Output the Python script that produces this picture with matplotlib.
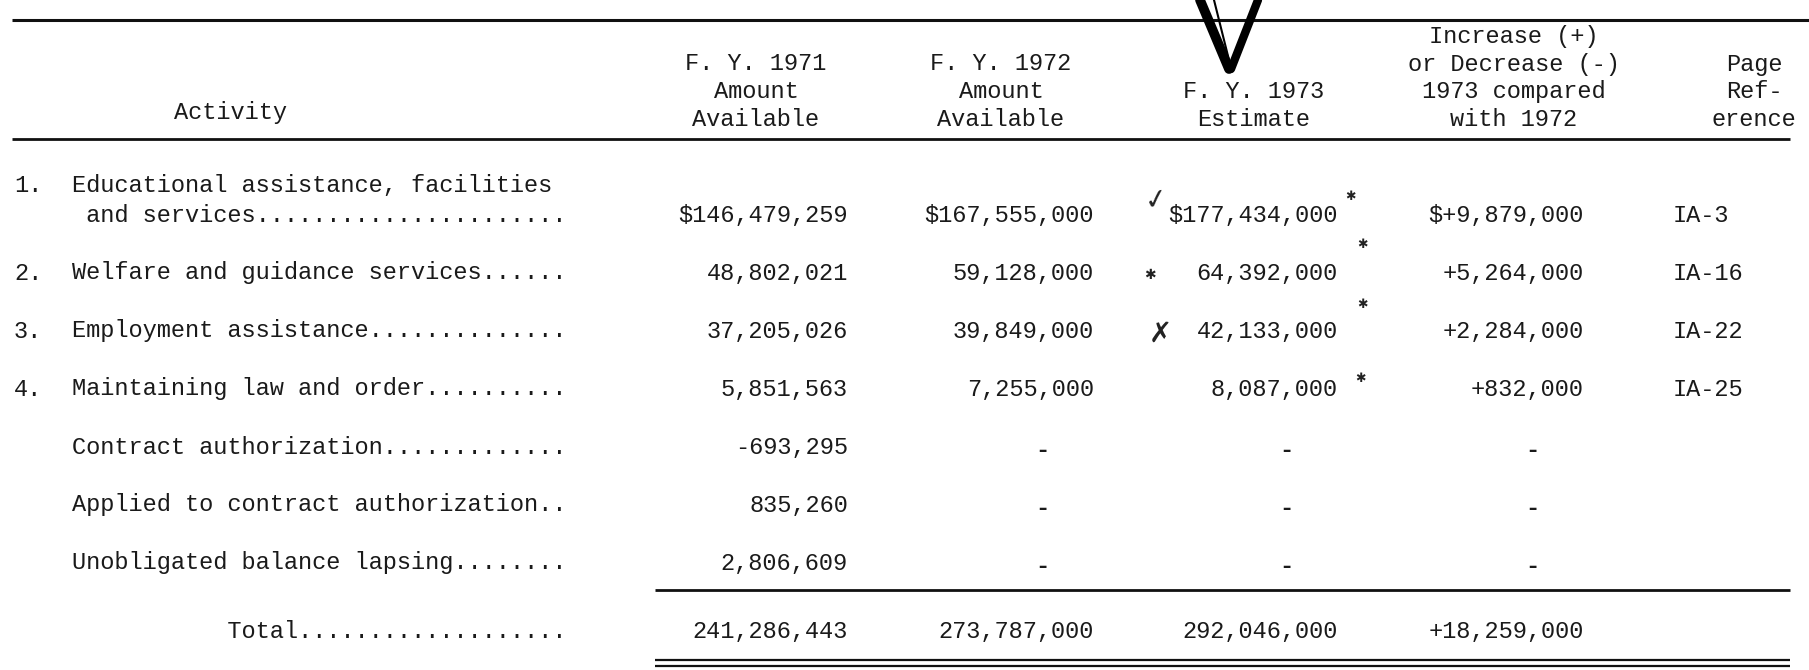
import matplotlib
matplotlib.use("Agg")
import matplotlib.pyplot as plt

# ---------------- data ----------------
row_numbers = ["1.", "2.", "3.", "4.", "", "", ""]
activities = [
    "Educational assistance, facilities|and services",
    "Welfare and guidance services",
    "Employment assistance",
    "Maintaining law and order",
    "Contract authorization",
    "Applied to contract authorization",
    "Unobligated balance lapsing",
]
fy1971 = [146479259, 48802021, 37205026, 5851563, -693295, 835260, 2806609]
fy1972 = [167555000, 59128000, 39849000, 7255000, None, None, None]
fy1973 = [177434000, 64392000, 42133000, 8087000, None, None, None]
change = [9879000, 5264000, 2284000, 832000, None, None, None]
page_ref = ["IA-3", "IA-16", "IA-22", "IA-25", "", "", ""]
total_label = "Total"
totals = [241286443, 273787000, 292046000, 18259000]

headers = [
    ["Activity"],
    ["F. Y. 1971", "Amount", "Available"],
    ["F. Y. 1972", "Amount", "Available"],
    ["F. Y. 1973", "Estimate"],
    ["Increase (+)", "or Decrease (-)", "1973 compared", "with 1972"],
    ["Page", "Ref-", "erence"],
]

# ---------------- layout ----------------
W, H = 1809, 670
fig = plt.figure(figsize=(W / 100, H / 100), dpi=100)
ax = fig.add_axes([0, 0, 1, 1])
ax.set_xlim(0, W)
ax.set_ylim(H, 0)
ax.axis("off")

FONT = dict(family="Liberation Mono", fontsize=17, color="#1a1a1a")
INK = "#111111"

# header
hdr_x = [231, 756, 1001, 1254, 1514, 1754]
hdr_bottom = 119
hdr_step = 27.5
for x, lines in zip(hdr_x, headers):
    n = len(lines)
    for k, line in enumerate(lines):
        y = hdr_bottom - (n - 1 - k) * hdr_step
        if lines[0] == "Activity":
            y = 113
        ax.text(x, y, line, ha="center", va="center", **FONT)

ax.plot([12, W], [20, 20], color=INK, lw=2.2, solid_capstyle="butt")
ax.plot([12, 1790], [139, 139], color=INK, lw=2.0, solid_capstyle="butt")

# body
label_x = 72
num_x = 14
label_width = 35
row_y0 = 215
row_step = 58
col_right = [848, 1094, 1338, 1584]
dash_x = [None, 1042, 1286, 1532]
ref_x = 1673


def fmt(v, dollar=False, sign=False):
    s = f"{abs(v):,}"
    if sign:
        s = ("+" if v >= 0 else "-") + s
    elif v < 0:
        s = "-" + s
    if dollar:
        s = "$" + s
    return s


for i, act in enumerate(activities):
    y = row_y0 + i * row_step
    if row_numbers[i]:
        ax.text(num_x, y if "|" not in act else y - 30, row_numbers[i],
                ha="left", va="center", **FONT)
    if "|" in act:
        first, second = act.split("|")
        ax.text(label_x, y - 30, first, ha="left", va="center", **FONT)
        line = " " + second
    else:
        line = act
    line = line + "." * (label_width - len(line))
    ax.text(label_x, y, line, ha="left", va="center", **FONT)

    first_row = i == 0
    vals = [fy1971[i], fy1972[i], fy1973[i], change[i]]
    for c, v in enumerate(vals):
        if v is None:
            ax.text(dash_x[c], y + 4, "-", ha="center", va="center",
                    fontweight="bold", **FONT)
        else:
            ax.text(col_right[c], y, fmt(v, dollar=first_row, sign=(c == 3)),
                    ha="right", va="center", **FONT)
    if page_ref[i]:
        ax.text(ref_x, y, page_ref[i], ha="left", va="center", **FONT)

# total
ax.plot([655, 1790], [590, 590], color=INK, lw=2.0, solid_capstyle="butt")
ty = 631
tline = " " * 11 + total_label
tline = tline + "." * (label_width - len(tline) - 0)
ax.text(label_x, ty, tline, ha="left", va="center", **FONT)
for c, v in enumerate(totals):
    ax.text(col_right[c], ty, fmt(v, sign=(c == 3)), ha="right", va="center", **FONT)
ax.plot([655, 1790], [660, 660], color=INK, lw=1.6, solid_capstyle="butt")
ax.plot([655, 1790], [666, 666], color=INK, lw=1.6, solid_capstyle="butt")

# handwritten annotations (decoration)
ax.plot([1200, 1229], [0, 69], color="black", lw=7, solid_capstyle="round")
ax.plot([1258, 1231], [0, 69], color="black", lw=6, solid_capstyle="round")
ax.plot([1214, 1229], [0, 60], color="black", lw=1.5)
hand = dict(family="DejaVu Sans", color="#222222")
ax.text(1156, 200, "\u2713", fontsize=20, rotation=10, ha="center", va="center", **hand)
ax.text(1350, 196, "\u2731", fontsize=9, ha="center", va="center", **hand)
ax.text(1150, 275, "\u2731", fontsize=10, ha="center", va="center", **hand)
ax.text(1362, 244, "\u2731", fontsize=9, ha="center", va="center", **hand)
ax.text(1160, 334, "\u2717", fontsize=20, ha="center", va="center", **hand)
ax.text(1362, 304, "\u2731", fontsize=9, ha="center", va="center", **hand)
ax.text(1360, 378, "\u2731", fontsize=9, ha="center", va="center", **hand)

fig.savefig("out.png", dpi=100, facecolor="white")
